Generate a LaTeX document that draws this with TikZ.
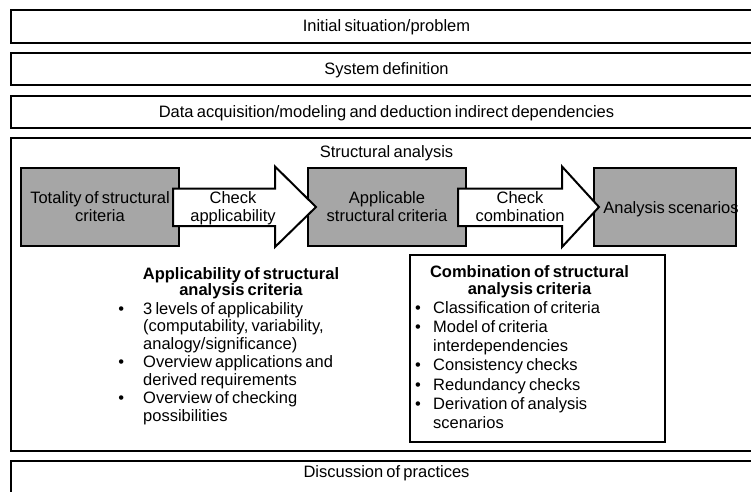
\documentclass[tikz,border=0pt]{standalone}
\usepackage{fontspec}
\setmainfont{Liberation Sans}[WordSpace=0.7]
\definecolor{boxgrey}{HTML}{A6A6A6}
\newcommand\bul[1]{\makebox[#1][l]{\textbullet}}
\begin{document}
\begin{tikzpicture}[x=1pt,y=-1pt,
  bar/.style={draw=black, line width=2pt, fill=white},
  greybox/.style={draw=black, line width=2pt, fill=boxgrey},
  blockarrow/.style={draw=black, line width=2pt, fill=white, line join=miter},
  txt/.style={inner sep=0pt, font=\fontsize{16.5}{18.4}\selectfont},
  titletxt/.style={inner sep=0pt, font=\fontsize{16.5}{16.5}\selectfont\bfseries},
  listA/.style={inner sep=0pt, font=\fontsize{16.5}{17.9}\selectfont},
  listB/.style={inner sep=0pt, font=\fontsize{16.5}{19.3}\selectfont}]
\useasboundingbox (0,0) rectangle (751,491);
\fill[white] (0,0) rectangle (751,491);
\clip (0,0) rectangle (751,491);
% top bars
\draw[bar] (11,9.5) rectangle (762,42.5);
\node[txt, anchor=base] (t1) at (386.5,31.5) {Initial situation/problem};
\draw[bar] (11,52.5) rectangle (762,85);
\node[txt, anchor=base] (t2) at (386.5,74.5) {System definition};
\draw[bar] (11,95.5) rectangle (762,128);
\node[txt, anchor=base] (t3) at (386.5,117) {Data acquisition/modeling and deduction indirect dependencies};
% main box
\draw[bar] (11,138) rectangle (762,451);
\node[txt, anchor=base] (t4) at (386.5,157) {Structural analysis};
% bottom bar
\draw[bar] (11,461) rectangle (762,510);
\node[txt, anchor=base] (t5) at (386.5,477) {Discussion of practices};
% grey boxes
\draw[greybox] (21,168) rectangle (179,246);
\draw[greybox] (308,168) rectangle (466,246);
\draw[greybox] (594,168) rectangle (736,246);
% block arrows
\draw[blockarrow] (173,188.5) -- (275,188.5) -- (275,166.5) -- (316,207) -- (275,247) -- (275,226) -- (173,226) -- cycle;
\draw[blockarrow] (458,188.5) -- (562,188.5) -- (562,166.5) -- (599,207) -- (562,247) -- (562,226) -- (458,226) -- cycle;
% texts in boxes and arrows
\node[txt, anchor=base] (ga) at (100,203.3) {\begin{tabular}[t]{@{}c@{}}Totality of structural\\criteria\end{tabular}};
\node[txt, anchor=base] (a1) at (233,203.3) {\begin{tabular}[t]{@{}c@{}}Check\\applicability\end{tabular}};
\node[txt, anchor=base] (gb) at (387,203.3) {\begin{tabular}[t]{@{}c@{}}Applicable\\structural criteria\end{tabular}};
\node[txt, anchor=base] (a2) at (520,203.3) {\begin{tabular}[t]{@{}c@{}}Check\\combination\end{tabular}};
\node[txt, anchor=base] (gc) at (671,213.3) {Analysis scenarios};
% applicability list
\node[titletxt, anchor=base] (apt) at (241,279) {\begin{tabular}[t]{@{}c@{}}Applicability of structural\\analysis criteria\end{tabular}};
\node[listA, anchor=base west] (apl) at (118.2,314) {\begin{tabular}[t]{@{}l@{}}
\bul{24.8pt}3 levels of applicability\\
\hspace*{24.8pt}(computability, variability,\\
\hspace*{24.8pt}analogy/significance)\\
\bul{24.8pt}Overview applications and\\
\hspace*{24.8pt}derived requirements\\
\bul{24.8pt}Overview of checking\\
\hspace*{24.8pt}possibilities\end{tabular}};
% combination box
\draw[draw=black, line width=2pt, fill=white] (410,255) rectangle (665,441.5);
\node[titletxt, anchor=base] (cbt) at (529.5,277.5) {\begin{tabular}[t]{@{}c@{}}Combination of structural\\analysis criteria\end{tabular}};
\node[listB, anchor=base west] (cbl) at (415,313) {\begin{tabular}[t]{@{}l@{}}
\bul{18pt}Classification of criteria\\
\bul{18pt}Model of criteria\\
\hspace*{18pt}interdependencies\\
\bul{18pt}Consistency checks\\
\bul{18pt}Redundancy checks\\
\bul{18pt}Derivation of analysis\\
\hspace*{18pt}scenarios\end{tabular}};
\end{tikzpicture}
\end{document}
